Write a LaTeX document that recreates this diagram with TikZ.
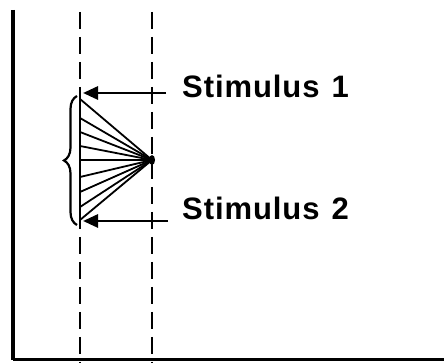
\documentclass[tikz,border=0pt]{standalone}
\usepackage{fontspec}
\newfontfamily\labfont[LetterSpace=3]{Liberation Sans Bold}
\usetikzlibrary{decorations.pathreplacing,arrows.meta}
\begin{document}
\begin{tikzpicture}[x=1pt,y=1pt,
  frame/.style={line width=4pt},
  guide/.style={line width=1.5pt,dash pattern=on 17pt off 8pt},
  stimarrow/.style={line width=2.8pt,-{Triangle[length=15pt,width=13pt]}},
  ray/.style={line width=1.8pt},
  lab/.style={font=\labfont\fontsize{31}{32}\selectfont,anchor=base west,inner sep=0pt}]
\useasboundingbox (0,0) rectangle (444,363);
% frame
\coordinate (ftop) at (13,353);
\coordinate (fcorner) at (13,3);
\coordinate (fright) at (444,3);
\draw[frame] (ftop) -- (fcorner);
\draw[line width=3pt] (fcorner) -- (fright);
% guide lines
\coordinate (ga) at (80,351);
\coordinate (gb) at (80,0);
\coordinate (gc) at (152,351);
\coordinate (gd) at (152,0);
\draw[guide] (ga) -- (gb);
\draw[guide] (gc) -- (gd);
% solid segment of left guide in fan region
\coordinate (ltop) at (80,266);
\coordinate (lbot) at (80,140);
\draw[line width=2pt] (ltop) -- (lbot);
% fan
\coordinate (apex) at (152,203);
\foreach \y [count=\i] in {264,245,231,217,203,186,171,156,143}{
  \coordinate (f\i) at (80,\y);
  \draw[ray] (apex) -- (f\i);
}
\fill (apex) ellipse (3pt and 5pt);
% brace
\coordinate (bbot) at (77,138);
\coordinate (btop) at (77,267);
\draw[line width=2.2pt,decorate,decoration={brace,amplitude=13pt}] (bbot) -- (btop);
% labels
\node[lab] (s1) at (182,265) {Stimulus\hspace{12pt}1};
\node[lab] (s2) at (182,143) {Stimulus\hspace{12pt}2};
% arrows
\coordinate (a1t) at (166,270);
\coordinate (a1h) at (83,270);
\coordinate (a2t) at (168,142);
\coordinate (a2h) at (83,142);
\draw[stimarrow] (a1t) -- (a1h);
\draw[stimarrow] (a2t) -- (a2h);
\end{tikzpicture}
\end{document}
